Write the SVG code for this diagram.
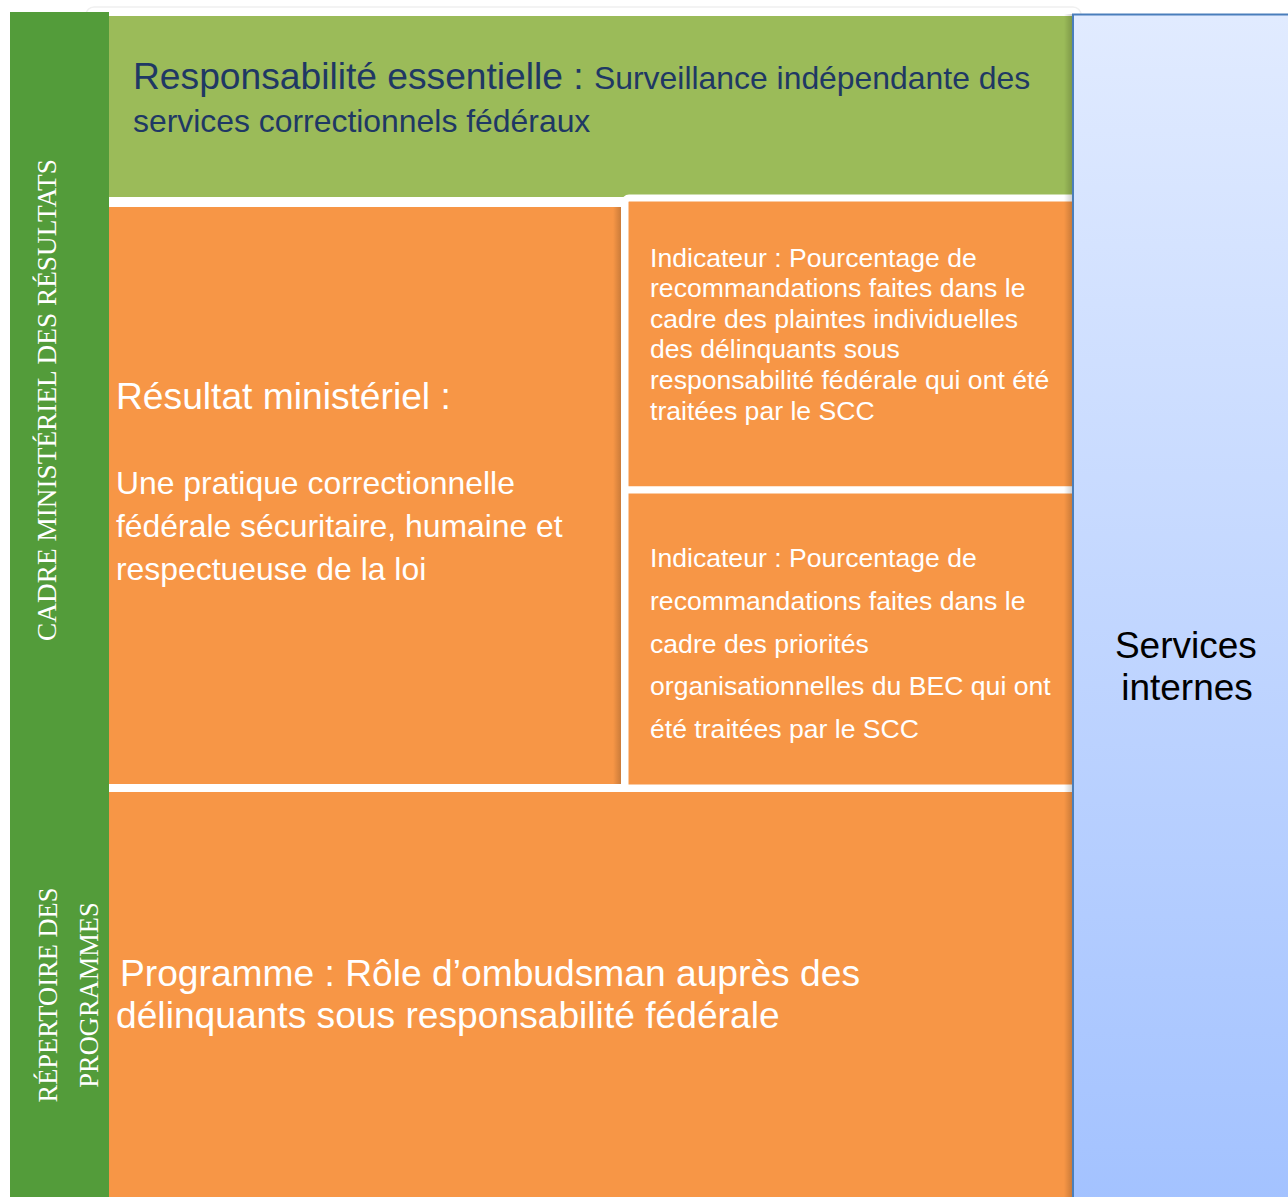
<svg xmlns="http://www.w3.org/2000/svg" width="1288" height="1197" viewBox="0 0 1288 1197">
  <defs>
    <linearGradient id="blueGrad" x1="0" y1="0" x2="0" y2="1">
      <stop offset="0" stop-color="#e1ebff"/>
      <stop offset="1" stop-color="#a3c2ff"/>
    </linearGradient>
    <linearGradient id="shadowL" x1="0" y1="0" x2="1" y2="0">
      <stop offset="0" stop-color="#000" stop-opacity="0"/>
      <stop offset="1" stop-color="#000" stop-opacity="0.18"/>
    </linearGradient>
  </defs>
  <style>
    .sans { font-family: "Liberation Sans", Arial, sans-serif; }
    .serif { font-family: "Liberation Serif", "Times New Roman", serif; fill: #ffffff; }
    .navy { fill: #1f3864; }
    .white { fill: #ffffff; }
    .orange { fill: #f79646; }
  </style>
  <rect x="0" y="0" width="1288" height="1197" fill="#ffffff"/>
  <rect x="86" y="7" width="995" height="1200" rx="8" fill="none" stroke="#f0f0f0" stroke-width="1.5"/>

  <g id="sidebar">
    <rect x="10" y="12" width="99" height="1185" fill="#539c3a"/>
    <text class="serif" text-anchor="middle" font-size="27.3" transform="translate(56,400) rotate(-90)">CADRE MINISTÉRIEL  DES RÉSULTATS</text>
    <text class="serif" text-anchor="middle" font-size="26.5" transform="translate(57,995) rotate(-90)">RÉPERTOIRE DES</text>
    <text class="serif" text-anchor="middle" font-size="26.5" transform="translate(98,995) rotate(-90)">PROGRAMMES</text>
  </g>

  <g id="responsabilite">
    <rect x="109" y="16" width="963" height="181" fill="#9bbb59"/>
    <text class="sans navy" x="133" y="89"><tspan font-size="37.2">Responsabilité essentielle : </tspan><tspan font-size="31.9">Surveillance indépendante des</tspan></text>
    <text class="sans navy" x="133" y="132" font-size="31.9">services correctionnels fédéraux</text>
  </g>

  <g id="resultat">
    <rect x="109" y="207" width="512" height="577" class="orange"/>
    <rect x="613" y="207" width="8" height="577" fill="url(#shadowL)"/>
    <text class="sans white" x="116" y="409" font-size="37.2">Résultat ministériel :</text>
    <text class="sans white" font-size="31.9">
      <tspan x="116" y="494">Une pratique correctionnelle</tspan>
      <tspan x="116" y="537">fédérale sécuritaire, humaine et</tspan>
      <tspan x="116" y="580">respectueuse de la loi</tspan>
    </text>
  </g>

  <g id="indicateur1">
    <rect x="625" y="198" width="460" height="292" rx="4" class="orange" stroke="#ffffff" stroke-width="7"/>
    <text class="sans white" font-size="26.6">
      <tspan x="650" y="267">Indicateur : Pourcentage de</tspan>
      <tspan x="650" y="297">recommandations faites dans le</tspan>
      <tspan x="650" y="328">cadre des plaintes individuelles</tspan>
      <tspan x="650" y="358">des délinquants sous</tspan>
      <tspan x="650" y="389">responsabilité fédérale qui ont été</tspan>
      <tspan x="650" y="420">traitées par le SCC</tspan>
    </text>
  </g>

  <g id="indicateur2">
    <rect x="625" y="490" width="460" height="298" class="orange" stroke="#ffffff" stroke-width="7"/>
    <text class="sans white" font-size="26.6">
      <tspan x="650" y="567">Indicateur : Pourcentage de</tspan>
      <tspan x="650" y="610">recommandations faites dans le</tspan>
      <tspan x="650" y="653">cadre des priorités</tspan>
      <tspan x="650" y="695">organisationnelles du BEC qui ont</tspan>
      <tspan x="650" y="738">été traitées par le SCC</tspan>
    </text>
  </g>

  <g id="programme">
    <rect x="109" y="792" width="963" height="405" class="orange"/>
    <text class="sans white" font-size="37.2">
      <tspan x="120" y="986">Programme : Rôle d’ombudsman auprès des</tspan>
      <tspan x="116" y="1028">délinquants sous responsabilité fédérale</tspan>
    </text>
  </g>

  <g id="services-internes">
    <rect x="1064" y="14" width="8" height="1183" fill="url(#shadowL)"/>
    <rect x="1073" y="14.5" width="220" height="1190" fill="url(#blueGrad)" stroke="#4a7ebb" stroke-width="2"/>
    <text class="sans" fill="#000000" font-size="37" text-anchor="middle">
      <tspan x="1191" y="658">Services</tspan>
      <tspan x="1187" y="700">internes</tspan>
    </text>
  </g>

  <g id="connectors"></g>
</svg>
